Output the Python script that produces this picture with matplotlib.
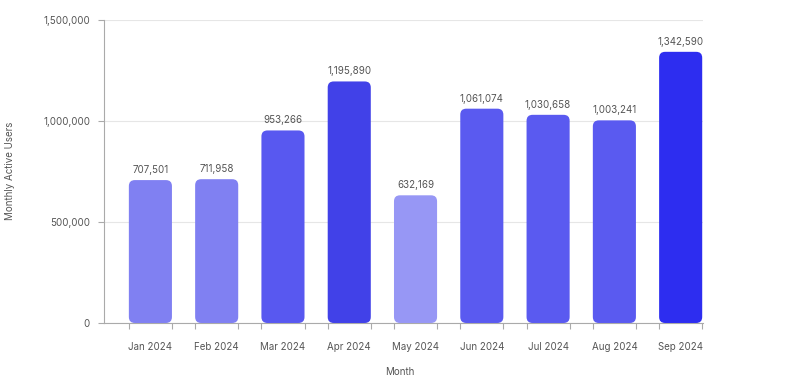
import matplotlib
matplotlib.use("Agg")
import matplotlib.pyplot as plt
from matplotlib.patches import FancyBboxPatch

months = ["Jan 2024", "Feb 2024", "Mar 2024", "Apr 2024", "May 2024",
          "Jun 2024", "Jul 2024", "Aug 2024", "Sep 2024"]
users = [707501, 711958, 953266, 1195890, 632169, 1061074, 1030658, 1003241, 1342590]
colors = ["#8080F2", "#8080F2", "#5858F0", "#4141E8", "#9797F5",
          "#5A5AF0", "#5A5AF0", "#5A5AF0", "#2D2DF0"]

plt.rcParams['font.family'] = ['Inter', 'DejaVu Sans']

fig = plt.figure(figsize=(8, 3.83), dpi=100)
ax = fig.add_axes([0.13, 0.1567, 0.749, 0.791])

x = list(range(len(months)))
width = 0.65
bars = ax.bar(x, users, width=width, color=colors)

# replace with rounded bars
ymax = 1500000
ax.set_ylim(0, ymax)
ax.set_xlim(-0.70, 8.34)
# aspect: data units per pixel
px_w = 0.749 * 800
px_h = 0.791 * 383
xunits_per_px = (8.34 + 0.70) / px_w
yunits_per_px = ymax / px_h
aspect = yunits_per_px / xunits_per_px
rad_px = 6
for b, c in zip(bars, colors):
    b.set_visible(False)
    bx, by = b.get_x(), b.get_y()
    bw, bh = b.get_width(), b.get_height()
    p = FancyBboxPatch((bx, by), bw, bh,
                       boxstyle=f"round,pad=0,rounding_size={rad_px * xunits_per_px}",
                       mutation_aspect=aspect, facecolor=c, edgecolor="none", zorder=3)
    ax.add_patch(p)

for xi, v in zip(x, users):
    ax.text(xi, v + 25000, f"{v:,}", ha="center", va="bottom", fontsize=7, color="#555555", zorder=4)

ax.set_yticks([0, 500000, 1000000, 1500000])
ax.set_yticklabels([f"{t:,}" for t in [0, 500000, 1000000, 1500000]])
ax.yaxis.grid(True, color="#E6E6E6", linewidth=0.8, zorder=0)
ax.set_axisbelow(True)

ax.set_xticks(x)
ax.set_xticklabels(months)
edges = []
for xi in x:
    edges += [xi - width / 2, xi + width / 2]
ax.set_xticks(edges, minor=True)
ax.tick_params(axis="x", which="major", length=0, pad=14, labelsize=7, labelcolor="#555555")
ax.tick_params(axis="x", which="minor", length=4, color="#AAAAAA", width=0.8)
ax.tick_params(axis="y", length=4, color="#AAAAAA", width=0.8, labelsize=7, labelcolor="#555555", pad=6)

for s in ["top", "right"]:
    ax.spines[s].set_visible(False)
for s in ["left", "bottom"]:
    ax.spines[s].set_color("#AAAAAA")
    ax.spines[s].set_linewidth(0.8)

fig.text(0.5, 383 and (383 - 372) / 383, "Month", ha="center", va="center", fontsize=7, color="#555555")
fig.text(10 / 800, (383 - 171) / 383, "Monthly Active Users", ha="center", va="center",
         rotation=90, fontsize=7, color="#555555")

fig.savefig("out.png", dpi=100)
